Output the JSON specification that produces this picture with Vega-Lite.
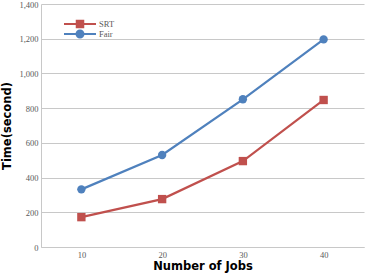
{
  "$schema": "https://vega.github.io/schema/vega-lite/v6.json",
  "width": 323,
  "height": 243,
  "autosize": {"type": "none"},
  "padding": {"left": 41, "top": 4, "right": 4, "bottom": 29},
  "background": "white",
  "config": {"view": {"stroke": null}},
  "data": {
    "values": [
      {"jobs": "10", "series": "SRT", "time": 172},
      {"jobs": "20", "series": "SRT", "time": 276},
      {"jobs": "30", "series": "SRT", "time": 495},
      {"jobs": "40", "series": "SRT", "time": 847},
      {"jobs": "10", "series": "Fair", "time": 332},
      {"jobs": "20", "series": "Fair", "time": 530},
      {"jobs": "30", "series": "Fair", "time": 851},
      {"jobs": "40", "series": "Fair", "time": 1196}
    ]
  },
  "encoding": {
    "x": {
      "field": "jobs", "type": "ordinal", "sort": null,
      "scale": {"type": "point", "padding": 0.5},
      "axis": {
        "title": "Number of Jobs", "labelAngle": 0,
        "titleFont": "DejaVu Sans", "titleFontWeight": "bold", "titleFontSize": 11.5, "titleColor": "#000000",
        "titlePadding": 2,
        "labelFont": "Liberation Serif", "labelFontSize": 8.5, "labelColor": "#595959", "labelPadding": 3,
        "ticks": false, "domainColor": "#c8c8c8", "domainWidth": 1, "grid": false
      }
    },
    "y": {
      "field": "time", "type": "quantitative",
      "scale": {"domain": [0, 1400], "nice": false},
      "axis": {
        "title": "Time(second)", "values": [0, 200, 400, 600, 800, 1000, 1200, 1400],
        "titleFont": "DejaVu Sans", "titleFontWeight": "bold", "titleFontSize": 11.5, "titleColor": "#000000",
        "titlePadding": 6,
        "labelFont": "Liberation Serif", "labelFontSize": 8.5, "labelColor": "#595959", "labelPadding": 3,
        "ticks": false, "domainColor": "#c8c8c8", "gridColor": "#c8c8c8", "gridWidth": 1.2
      }
    },
    "color": {
      "field": "series", "type": "nominal",
      "scale": {"domain": ["SRT", "Fair"], "range": ["#C0504D", "#4F81BD"]},
      "legend": {
        "title": null, "orient": "none", "legendX": 34, "legendY": 15,
        "symbolSize": 100, "symbolStrokeWidth": 0, "symbolOpacity": 1, "symbolFillColor": null,
        "symbolType": {"expr": "datum.value === 'SRT' ? 'M-3.2,-0.22H3.2V0.22H-3.2Z M-0.85,-0.85H0.85V0.85H-0.85Z' : 'M-3.2,-0.22H3.2V0.22H-3.2Z M0.9,0 A0.9,0.9 0 1,1 -0.9,0 A0.9,0.9 0 1,1 0.9,0 Z'"},
        "labelFont": "Liberation Serif", "labelFontSize": 8.5, "labelColor": "#595959",
        "labelOffset": 14, "rowPadding": -4
      }
    }
  },
  "layer": [
    {"mark": {"type": "line", "strokeWidth": 2.2}},
    {
      "transform": [{"filter": "datum.series === 'SRT'"}],
      "mark": {"type": "point", "filled": true, "opacity": 1, "size": 70, "shape": "square"}
    },
    {
      "transform": [{"filter": "datum.series === 'Fair'"}],
      "mark": {"type": "point", "filled": true, "opacity": 1, "size": 70, "shape": "circle"}
    }
  ]
}
